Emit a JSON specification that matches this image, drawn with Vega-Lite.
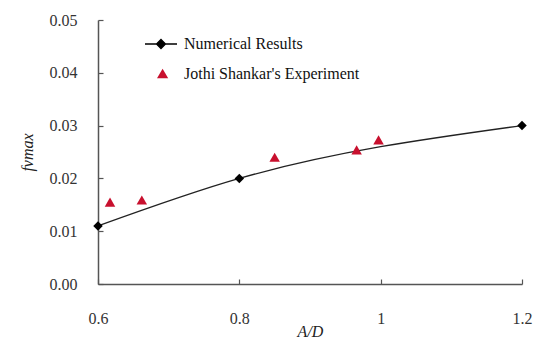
{
  "$schema": "https://vega.github.io/schema/vega-lite/v6.json",
  "autosize": "none",
  "width": 424,
  "height": 264,
  "padding": {"left": 98, "top": 20, "right": 16, "bottom": 55},
  "background": "white",
  "config": {
    "view": {"stroke": null},
    "font": "Liberation Serif",
    "axis": {
      "grid": false,
      "domainColor": "#555555",
      "domainWidth": 1.5,
      "tickColor": "#555555",
      "tickWidth": 1.2,
      "tickSize": -5,
      "labelFont": "Liberation Serif",
      "labelFontSize": 16,
      "labelColor": "#333333",
      "labelFlush": false,
      "titleFont": "Liberation Serif",
      "titleFontSize": 16,
      "titleColor": "#222222",
      "titleFontWeight": "normal"
    }
  },
  "datasets": {
    "num": [
      {"x": 0.6, "y": 0.011, "series": "Numerical Results"},
      {"x": 0.8, "y": 0.020, "series": "Numerical Results"},
      {"x": 1.2, "y": 0.030, "series": "Numerical Results"}
    ],
    "exp": [
      {"x": 0.617, "y": 0.0155, "series": "Jothi Shankar's Experiment"},
      {"x": 0.662, "y": 0.0159, "series": "Jothi Shankar's Experiment"},
      {"x": 0.85, "y": 0.024, "series": "Jothi Shankar's Experiment"},
      {"x": 0.966, "y": 0.0254, "series": "Jothi Shankar's Experiment"},
      {"x": 0.997, "y": 0.0273, "series": "Jothi Shankar's Experiment"}
    ]
  },
  "layer": [
    {
      "data": {"name": "num"},
      "mark": {"type": "line", "interpolate": "monotone", "color": "#222222", "strokeWidth": 1.3},
      "encoding": {
        "x": {"field": "x", "type": "quantitative", "scale": {"domain": [0.6, 1.2], "nice": false, "zero": false},
          "axis": {"values": [0.6, 0.8, 1.0, 1.2], "labelExpr": "datum.value == 1 ? '1' : format(datum.value, '.1f')", "title": "A/D", "titleFontStyle": "italic", "labelPadding": 31, "titlePadding": -3}},
        "y": {"field": "y", "type": "quantitative", "scale": {"domain": [0, 0.05], "nice": false},
          "axis": {"values": [0, 0.01, 0.02, 0.03, 0.04, 0.05], "format": ".2f", "title": "fvmax", "titleFontStyle": "italic", "labelPadding": 26, "titlePadding": 14}}
      }
    },
    {
      "data": {"name": "num"},
      "mark": {"type": "point", "shape": "diamond", "filled": true, "size": 90, "opacity": 1},
      "encoding": {
        "x": {"field": "x", "type": "quantitative"},
        "y": {"field": "y", "type": "quantitative"},
        "color": {"field": "series", "type": "nominal",
          "scale": {"domain": ["Numerical Results", "Jothi Shankar's Experiment"], "range": ["#000000", "#c8102e"]},
          "legend": {
            "orient": "none", "legendX": 46, "legendY": 7, "title": null,
            "padding": 0, "symbolSize": 1024, "rowPadding": 5, "labelOffset": 6, "labelLimit": 400,
            "labelFont": "Liberation Serif", "labelFontSize": 16, "labelColor": "#111111",
            "symbolStrokeWidth": 1.3,
            "symbolOpacity": 1,
            "symbolType": {"expr": "datum.value === 'Numerical Results' ? 'M-1,0L1,0M0,-0.28L0.28,0L0,0.28L-0.28,0Z' : 'M0.1,-0.33L0.45,0.27L-0.25,0.27Z'"},
            "symbolStrokeColor": {"expr": "datum.value === 'Numerical Results' ? '#000000' : 'transparent'"},
            "symbolFillColor": {"expr": "datum.value === 'Numerical Results' ? '#000000' : '#c8102e'"}
          }}
      }
    },
    {
      "data": {"name": "exp"},
      "mark": {"type": "point", "shape": "triangle-up", "filled": true, "size": 110, "opacity": 1},
      "encoding": {
        "x": {"field": "x", "type": "quantitative"},
        "y": {"field": "y", "type": "quantitative"},
        "color": {"field": "series", "type": "nominal"}
      }
    }
  ]
}
